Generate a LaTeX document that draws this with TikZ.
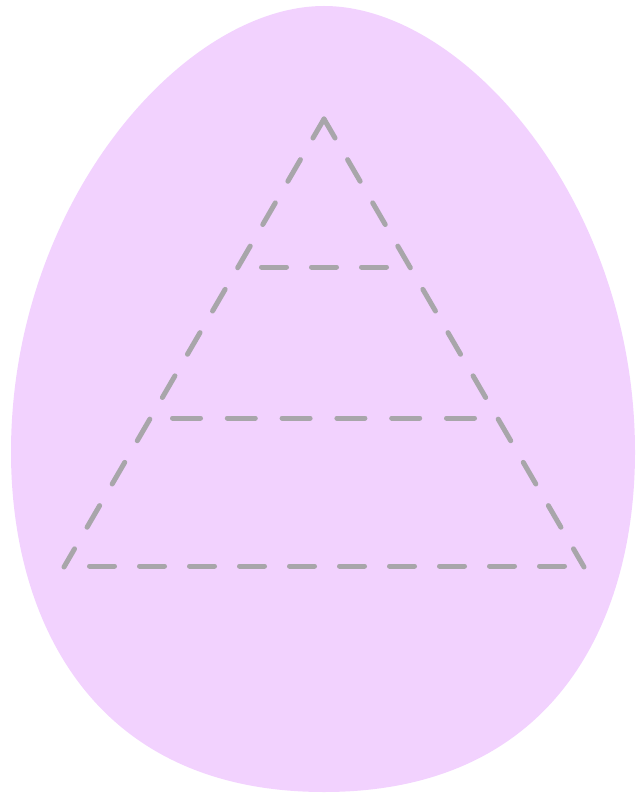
\documentclass[tikz,border=0pt]{standalone}
\begin{document}
\begin{tikzpicture}[x=1pt,y=-1pt,
  eggfill/.style={fill=eggcol,draw=none},
  dashline/.style={draw=linecol,line width=5pt,line cap=round,line join=miter}]
\definecolor{eggcol}{RGB}{242,210,254}
\definecolor{linecol}{RGB}{168,166,170}
\useasboundingbox (0,0) rectangle (644,794);
\fill[eggcol] (324,6) .. controls (464,6) and (635,202) .. (635,452)
  .. controls (635,622) and (554,792) .. (324,792)
  .. controls (94,792) and (11,622) .. (11,452)
  .. controls (11,202) and (184,6) .. (324,6) -- cycle;
\coordinate (apex) at (324,119);
\coordinate (bl) at (64,567);
\coordinate (br) at (584,567);
\draw[dashline,dash pattern=on 25pt off 25pt,dash phase=3pt] (apex) -- (bl);
\draw[dashline,dash pattern=on 25pt off 25pt,dash phase=3pt] (apex) -- (br);
\coordinate (b1) at (89.5,566);
\coordinate (b2) at (564.5,566);
\draw[dashline,dash pattern=on 25pt off 25pt] (b1) -- (b2);
\coordinate (m1) at (172.5,418);
\coordinate (m2) at (474.5,418);
\draw[dashline,dash pattern=on 28pt off 26.8pt] (m1) -- (m2);
\coordinate (t1) at (261.5,267);
\coordinate (t2) at (386.5,267);
\draw[dashline,dash pattern=on 25pt off 25pt] (t1) -- (t2);
\end{tikzpicture}
\end{document}
